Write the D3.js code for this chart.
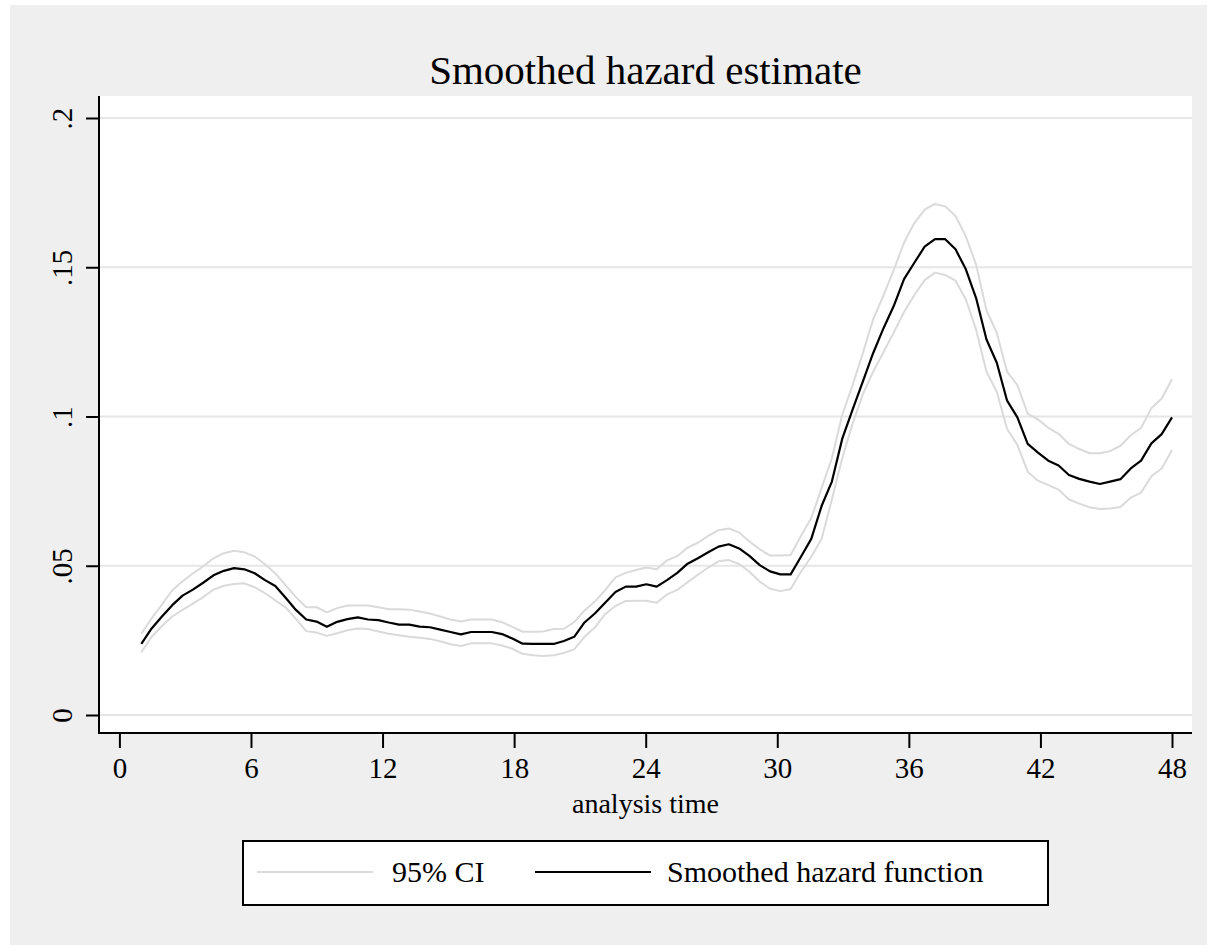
<!DOCTYPE html>
<html>
<head>
<meta charset="utf-8">
<title>Smoothed hazard estimate</title>
<script src="https://cdn.jsdelivr.net/npm/d3@7"></script>
<style>
  html, body { margin: 0; padding: 0; background: #ffffff; }
  svg { display: block; }
  text { font-family: "Liberation Serif", "DejaVu Serif", serif; fill: #000; }
</style>
</head>
<body>
<svg id="chart" width="1207" height="945"></svg>
<script>
// Evaluation grid (analysis time, months)
const times = [
  1.00, 1.47, 1.94, 2.41, 2.88, 3.35, 3.82, 4.29, 4.76, 5.23,
  5.70, 6.17, 6.64, 7.11, 7.58, 8.05, 8.52, 8.99, 9.46, 9.93,
  10.40, 10.87, 11.34, 11.81, 12.28, 12.75, 13.22, 13.69, 14.16, 14.63,
  15.10, 15.57, 16.04, 16.51, 16.98, 17.45, 17.92, 18.39, 18.86, 19.33,
  19.80, 20.27, 20.74, 21.21, 21.68, 22.15, 22.62, 23.09, 23.56, 24.03,
  24.50, 24.97, 25.44, 25.91, 26.38, 26.85, 27.32, 27.79, 28.26, 28.73,
  29.20, 29.67, 30.14, 30.61, 31.08, 31.55, 32.02, 32.49, 32.96, 33.43,
  33.90, 34.37, 34.84, 35.31, 35.78, 36.25, 36.72, 37.19, 37.66, 38.13,
  38.60, 39.07, 39.54, 40.01, 40.48, 40.95, 41.42, 41.89, 42.36, 42.83,
  43.30, 43.77, 44.24, 44.71, 45.18, 45.65, 46.12, 46.59, 47.06, 47.53,
  48.00
];

// Smoothed hazard function
const hazard = [
  0.0238, 0.0290, 0.0330, 0.0368, 0.0400, 0.0420, 0.0443, 0.0468, 0.0483, 0.0492,
  0.0488, 0.0475, 0.0452, 0.0432, 0.0393, 0.0352, 0.0320, 0.0313, 0.0296, 0.0312,
  0.0321, 0.0327, 0.0320, 0.0318, 0.0310, 0.0303, 0.0303, 0.0296, 0.0294, 0.0286,
  0.0278, 0.0270, 0.0278, 0.0278, 0.0278, 0.0271, 0.0256, 0.0239, 0.0238, 0.0238,
  0.0238, 0.0248, 0.0262, 0.0310, 0.0340, 0.0376, 0.0412, 0.0430, 0.0430, 0.0438,
  0.0430, 0.0452, 0.0476, 0.0507, 0.0525, 0.0545, 0.0564, 0.0572, 0.0558, 0.0533,
  0.0502, 0.0481, 0.0471, 0.0471, 0.0530, 0.0590, 0.0700, 0.0782, 0.0925, 0.1022,
  0.1117, 0.1212, 0.1295, 0.1370, 0.1460, 0.1515, 0.1569, 0.1594, 0.1594, 0.1560,
  0.1493, 0.1396, 0.1258, 0.1180, 0.1053, 0.0997, 0.0908, 0.0879, 0.0852, 0.0836,
  0.0804, 0.0791, 0.0782, 0.0774, 0.0782, 0.0790, 0.0826, 0.0852, 0.0910, 0.0941,
  0.0997
];

// Upper 95% confidence bound
const upper = [
  0.0272, 0.0324, 0.0370, 0.0418, 0.0448, 0.0474, 0.0498, 0.0525, 0.0542, 0.0550,
  0.0545, 0.0531, 0.0505, 0.0474, 0.0435, 0.0395, 0.0361, 0.0361, 0.0344, 0.0358,
  0.0367, 0.0367, 0.0367, 0.0361, 0.0354, 0.0354, 0.0353, 0.0347, 0.0340, 0.0330,
  0.0320, 0.0313, 0.0320, 0.0320, 0.0320, 0.0311, 0.0295, 0.0279, 0.0279, 0.0280,
  0.0288, 0.0289, 0.0311, 0.0350, 0.0380, 0.0418, 0.0461, 0.0476, 0.0486, 0.0494,
  0.0488, 0.0518, 0.0532, 0.0561, 0.0577, 0.0600, 0.0619, 0.0625, 0.0611, 0.0581,
  0.0555, 0.0534, 0.0534, 0.0536, 0.0600, 0.0660, 0.0760, 0.0860, 0.1005, 0.1104,
  0.1212, 0.1325, 0.1405, 0.1490, 0.1582, 0.1648, 0.1693, 0.1712, 0.1704, 0.1672,
  0.1603, 0.1508, 0.1356, 0.1280, 0.1150, 0.1105, 0.1010, 0.0990, 0.0962, 0.0942,
  0.0908, 0.0891, 0.0877, 0.0877, 0.0884, 0.0902, 0.0937, 0.0962, 0.1028, 0.1060,
  0.1125
];

// Lower 95% confidence bound
const lower = [
  0.0210, 0.0262, 0.0298, 0.0330, 0.0352, 0.0373, 0.0395, 0.0420, 0.0433, 0.0439,
  0.0441, 0.0428, 0.0408, 0.0384, 0.0360, 0.0322, 0.0281, 0.0276, 0.0265, 0.0274,
  0.0284, 0.0290, 0.0288, 0.0280, 0.0272, 0.0267, 0.0262, 0.0259, 0.0255, 0.0247,
  0.0237, 0.0231, 0.0240, 0.0240, 0.0240, 0.0233, 0.0222, 0.0205, 0.0200, 0.0198,
  0.0200, 0.0208, 0.0220, 0.0262, 0.0293, 0.0338, 0.0365, 0.0382, 0.0383, 0.0383,
  0.0376, 0.0404, 0.0419, 0.0445, 0.0470, 0.0494, 0.0515, 0.0519, 0.0506, 0.0480,
  0.0447, 0.0423, 0.0415, 0.0422, 0.0480, 0.0530, 0.0590, 0.0722, 0.0860, 0.0975,
  0.1074, 0.1150, 0.1215, 0.1281, 0.1350, 0.1407, 0.1457, 0.1482, 0.1474, 0.1455,
  0.1392, 0.1290, 0.1150, 0.1083, 0.0958, 0.0905, 0.0815, 0.0785, 0.0770, 0.0755,
  0.0722, 0.0708, 0.0696, 0.0690, 0.0692, 0.0697, 0.0728, 0.0745, 0.0800, 0.0826,
  0.0888
];

const xTicks = [0, 6, 12, 18, 24, 30, 36, 42, 48];
const yTicks = [0, 0.05, 0.1, 0.15, 0.2];
const yTickLabels = ["0", ".05", ".1", ".15", ".2"];
const legendLabels = ["95% CI", "Smoothed hazard function"];

const titleText = "Smoothed hazard estimate";
const xTitle = "analysis time";

const svg = d3.select("#chart");
const W = 1207, H = 945;

// Outer graph background
svg.append("rect")
  .attr("x", 10).attr("y", 5).attr("width", W - 10).attr("height", H - 5)
  .attr("fill", "#efefef");

// Plot region
const plot = { left: 99, right: 1192, top: 96, bottom: 733 };
svg.append("rect")
  .attr("x", plot.left).attr("y", plot.top)
  .attr("width", plot.right - plot.left).attr("height", plot.bottom - plot.top)
  .attr("fill", "#ffffff");

const x = d3.scaleLinear().domain([0, 48]).range([119.4, 1172]);
const y = d3.scaleLinear().domain([0, 0.2]).range([715, 118]);

// Horizontal grid lines
svg.append("g")
  .selectAll("line")
  .data(yTicks)
  .join("line")
  .attr("x1", plot.left).attr("x2", plot.right)
  .attr("y1", d => y(d)).attr("y2", d => y(d))
  .attr("stroke", "#e6e6e6").attr("stroke-width", 2);

// Curves
const rows = times.map((t, i) => ({ t, h: hazard[i], lo: lower[i], hi: upper[i] }));
const lineOf = key => d3.line().x(d => x(d.t)).y(d => y(d[key]));

const curves = svg.append("g").attr("fill", "none")
  .attr("stroke-linejoin", "round");
curves.append("path").datum(rows).attr("d", lineOf("hi"))
  .attr("stroke", "#dadada").attr("stroke-width", 2);
curves.append("path").datum(rows).attr("d", lineOf("lo"))
  .attr("stroke", "#dadada").attr("stroke-width", 2);
curves.append("path").datum(rows).attr("d", lineOf("h"))
  .attr("stroke", "#000000").attr("stroke-width", 2.2);

// Y axis
const yAxis = d3.axisLeft(y)
  .tickValues(yTicks)
  .tickFormat((d, i) => yTickLabels[i])
  .tickSize(13).tickSizeOuter(0).tickPadding(14);
const gy = svg.append("g").attr("transform", `translate(${plot.left},0)`).call(yAxis);
gy.select(".domain").remove();
gy.selectAll(".tick line").attr("stroke", "#000").attr("stroke-width", 2);
gy.selectAll(".tick text")
  .attr("font-family", "Liberation Serif, serif")
  .attr("font-size", 29)
  .attr("text-anchor", "middle")
  .attr("x", null).attr("dy", null)
  .attr("transform", "translate(-27,0) rotate(-90)")
  .attr("y", 0);
svg.append("line")
  .attr("x1", plot.left).attr("x2", plot.left)
  .attr("y1", plot.top).attr("y2", plot.bottom + 1)
  .attr("stroke", "#000").attr("stroke-width", 2);

// X axis
const xAxis = d3.axisBottom(x)
  .tickValues(xTicks)
  .tickFormat(d3.format("d"))
  .tickSize(15).tickSizeOuter(0).tickPadding(9);
const gx = svg.append("g").attr("transform", `translate(0,${plot.bottom})`).call(xAxis);
gx.select(".domain").remove();
gx.selectAll(".tick line").attr("stroke", "#000").attr("stroke-width", 2);
gx.selectAll(".tick text")
  .attr("font-family", "Liberation Serif, serif")
  .attr("font-size", 29);
svg.append("line")
  .attr("x1", plot.left - 1).attr("x2", plot.right)
  .attr("y1", plot.bottom).attr("y2", plot.bottom)
  .attr("stroke", "#000").attr("stroke-width", 2);

// Axis title
svg.append("text")
  .attr("x", (plot.left + plot.right) / 2).attr("y", 813)
  .attr("text-anchor", "middle")
  .attr("font-size", 28)
  .text(xTitle);

// Chart title
svg.append("text")
  .attr("x", (plot.left + plot.right) / 2).attr("y", 84)
  .attr("text-anchor", "middle")
  .attr("font-size", 41)
  .text(titleText);

// Legend
const legend = svg.append("g");
legend.append("rect")
  .attr("x", 243).attr("y", 841).attr("width", 805).attr("height", 64)
  .attr("fill", "#ffffff").attr("stroke", "#000").attr("stroke-width", 2);
const legendItems = [
  { label: legendLabels[0], color: "#dadada", x1: 257, x2: 373, tx: 392 },
  { label: legendLabels[1], color: "#000000", x1: 535, x2: 651, tx: 667 }
];
legendItems.forEach(item => {
  legend.append("line")
    .attr("x1", item.x1).attr("x2", item.x2)
    .attr("y1", 872).attr("y2", 872)
    .attr("stroke", item.color).attr("stroke-width", 2);
  legend.append("text")
    .attr("x", item.tx).attr("y", 882)
    .attr("font-size", 30)
    .text(item.label);
});
</script>
</body>
</html>
